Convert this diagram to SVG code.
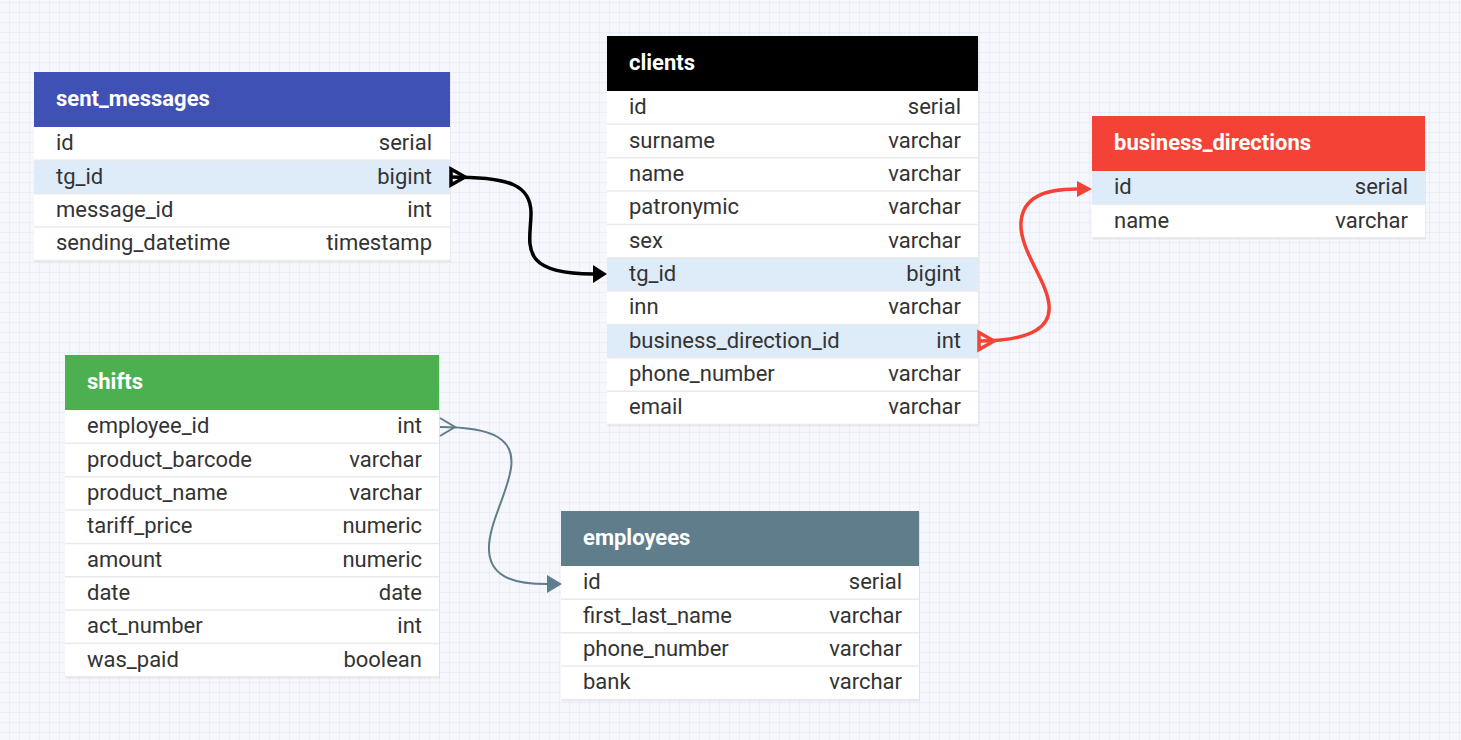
<svg xmlns="http://www.w3.org/2000/svg" width="1461" height="740" viewBox="0 0 1461 740">
<style>
.title{font-family:Roboto,"Liberation Sans",sans-serif;font-size:22px;font-weight:bold;fill:#ffffff}
.f{font-family:Roboto,"Liberation Sans",sans-serif;font-size:22px;fill:#333333}
.t{font-family:Roboto,"Liberation Sans",sans-serif;font-size:22px;fill:#333333;text-anchor:end}
.body{fill:#ffffff}
.shadow{fill:#000000;fill-opacity:0.05}
.hl{fill:#deebf8}
.sep{stroke:#eaeaea;stroke-width:1.5}
.c-black{fill:none;stroke:#000000;stroke-width:3.5}
.c-red{fill:none;stroke:#f44336;stroke-width:3.5}
.c-gray{fill:none;stroke:#607d8b;stroke-width:2}
</style>
<defs>
<pattern id="grid" width="10" height="10" patternUnits="userSpaceOnUse" y="3">
<rect width="10" height="10" fill="#f6f7fc"/>
<path d="M10,0 V10 M0,10 H10" stroke="#dfe6f4" stroke-width="1" fill="none"/>
</pattern>
<marker id="ar-black" markerUnits="userSpaceOnUse" markerWidth="14" markerHeight="18" refX="0" refY="9" orient="auto" viewBox="0 0 14 18">
<path d="M0,0 L14,9 L0,18 Z" fill="#000000"/>
</marker>
<marker id="ar-red" markerUnits="userSpaceOnUse" markerWidth="15" markerHeight="16" refX="0" refY="8" orient="auto" viewBox="0 0 15 16">
<path d="M0,0 L15,8 L0,16 Z" fill="#f44336"/>
</marker>
<marker id="ar-gray" markerUnits="userSpaceOnUse" markerWidth="15" markerHeight="18" refX="0" refY="9" orient="auto" viewBox="0 0 15 18">
<path d="M0,0 L15,9 L0,18 Z" fill="#607d8b"/>
</marker>
</defs>
<rect width="1461" height="740" fill="url(#grid)"/>

<g id="sent_messages" transform="translate(34,72)">
<rect class="shadow" x="1" y="1" width="416" height="189.4"/>
<rect fill="#3f51b5" width="416" height="55"/>
<text class="title" x="22" y="34">sent_messages</text>
<rect class="body" y="55" width="416" height="133.4"/>
<rect class="hl" y="88.35" width="416" height="33.35"/>
<line class="sep" x1="0" x2="416" y1="88.35" y2="88.35"/>
<line class="sep" x1="0" x2="416" y1="121.7" y2="121.7"/>
<line class="sep" x1="0" x2="416" y1="155.05" y2="155.05"/>
<line class="sep" x1="0" x2="416" y1="188.4" y2="188.4"/>
<text class="f" x="22" y="78.2">id</text><text class="t" x="398" y="78.2">serial</text>
<text class="f" x="22" y="111.55">tg_id</text><text class="t" x="398" y="111.55">bigint</text>
<text class="f" x="22" y="144.9">message_id</text><text class="t" x="398" y="144.9">int</text>
<text class="f" x="22" y="178.25">sending_datetime</text><text class="t" x="398" y="178.25">timestamp</text>
</g>

<g id="clients" transform="translate(607,36)">
<rect class="shadow" x="1" y="1" width="371" height="389.5"/>
<rect fill="#000000" width="371" height="55"/>
<text class="title" x="22" y="34">clients</text>
<rect class="body" y="55" width="371" height="333.5"/>
<rect class="hl" y="221.75" width="371" height="33.35"/>
<rect class="hl" y="288.45" width="371" height="33.35"/>
<line class="sep" x1="0" x2="371" y1="88.35" y2="88.35"/>
<line class="sep" x1="0" x2="371" y1="121.7" y2="121.7"/>
<line class="sep" x1="0" x2="371" y1="155.05" y2="155.05"/>
<line class="sep" x1="0" x2="371" y1="188.4" y2="188.4"/>
<line class="sep" x1="0" x2="371" y1="221.75" y2="221.75"/>
<line class="sep" x1="0" x2="371" y1="255.1" y2="255.1"/>
<line class="sep" x1="0" x2="371" y1="288.45" y2="288.45"/>
<line class="sep" x1="0" x2="371" y1="321.8" y2="321.8"/>
<line class="sep" x1="0" x2="371" y1="355.15" y2="355.15"/>
<line class="sep" x1="0" x2="371" y1="388.5" y2="388.5"/>
<text class="f" x="22" y="78.2">id</text><text class="t" x="354" y="78.2">serial</text>
<text class="f" x="22" y="111.55">surname</text><text class="t" x="354" y="111.55">varchar</text>
<text class="f" x="22" y="144.9">name</text><text class="t" x="354" y="144.9">varchar</text>
<text class="f" x="22" y="178.25">patronymic</text><text class="t" x="354" y="178.25">varchar</text>
<text class="f" x="22" y="211.6">sex</text><text class="t" x="354" y="211.6">varchar</text>
<text class="f" x="22" y="244.95">tg_id</text><text class="t" x="354" y="244.95">bigint</text>
<text class="f" x="22" y="278.3">inn</text><text class="t" x="354" y="278.3">varchar</text>
<text class="f" x="22" y="311.65">business_direction_id</text><text class="t" x="354" y="311.65">int</text>
<text class="f" x="22" y="345">phone_number</text><text class="t" x="354" y="345">varchar</text>
<text class="f" x="22" y="378.35">email</text><text class="t" x="354" y="378.35">varchar</text>
</g>

<g id="business_directions" transform="translate(1092,116)">
<rect class="shadow" x="1" y="1" width="333" height="122.7"/>
<rect fill="#f44336" width="333" height="55"/>
<text class="title" x="22" y="34">business_directions</text>
<rect class="body" y="55" width="333" height="66.7"/>
<rect class="hl" y="55" width="333" height="33.35"/>
<line class="sep" x1="0" x2="333" y1="88.35" y2="88.35"/>
<line class="sep" x1="0" x2="333" y1="121.7" y2="121.7"/>
<text class="f" x="22" y="78.2">id</text><text class="t" x="316" y="78.2">serial</text>
<text class="f" x="22" y="111.55">name</text><text class="t" x="316" y="111.55">varchar</text>
</g>

<g id="shifts" transform="translate(65,355)">
<rect class="shadow" x="1" y="1" width="374" height="322.8"/>
<rect fill="#4caf50" width="374" height="55"/>
<text class="title" x="22" y="34">shifts</text>
<rect class="body" y="55" width="374" height="266.8"/>
<line class="sep" x1="0" x2="374" y1="88.35" y2="88.35"/>
<line class="sep" x1="0" x2="374" y1="121.7" y2="121.7"/>
<line class="sep" x1="0" x2="374" y1="155.05" y2="155.05"/>
<line class="sep" x1="0" x2="374" y1="188.4" y2="188.4"/>
<line class="sep" x1="0" x2="374" y1="221.75" y2="221.75"/>
<line class="sep" x1="0" x2="374" y1="255.1" y2="255.1"/>
<line class="sep" x1="0" x2="374" y1="288.45" y2="288.45"/>
<line class="sep" x1="0" x2="374" y1="321.8" y2="321.8"/>
<text class="f" x="22" y="78.2">employee_id</text><text class="t" x="357" y="78.2">int</text>
<text class="f" x="22" y="111.55">product_barcode</text><text class="t" x="357" y="111.55">varchar</text>
<text class="f" x="22" y="144.9">product_name</text><text class="t" x="357" y="144.9">varchar</text>
<text class="f" x="22" y="178.25">tariff_price</text><text class="t" x="357" y="178.25">numeric</text>
<text class="f" x="22" y="211.6">amount</text><text class="t" x="357" y="211.6">numeric</text>
<text class="f" x="22" y="244.95">date</text><text class="t" x="357" y="244.95">date</text>
<text class="f" x="22" y="278.3">act_number</text><text class="t" x="357" y="278.3">int</text>
<text class="f" x="22" y="311.65">was_paid</text><text class="t" x="357" y="311.65">boolean</text>
</g>

<g id="employees" transform="translate(561,511)">
<rect class="shadow" x="1" y="1" width="358" height="189.4"/>
<rect fill="#607d8b" width="358" height="55"/>
<text class="title" x="22" y="34">employees</text>
<rect class="body" y="55" width="358" height="133.4"/>
<line class="sep" x1="0" x2="358" y1="88.35" y2="88.35"/>
<line class="sep" x1="0" x2="358" y1="121.7" y2="121.7"/>
<line class="sep" x1="0" x2="358" y1="155.05" y2="155.05"/>
<line class="sep" x1="0" x2="358" y1="188.4" y2="188.4"/>
<text class="f" x="22" y="78.2">id</text><text class="t" x="341" y="78.2">serial</text>
<text class="f" x="22" y="111.55">first_last_name</text><text class="t" x="341" y="111.55">varchar</text>
<text class="f" x="22" y="144.9">phone_number</text><text class="t" x="341" y="144.9">varchar</text>
<text class="f" x="22" y="178.25">bank</text><text class="t" x="341" y="178.25">varchar</text>
</g>

<g id="connectors">
<path class="c-black" d="M451,177 C 510,177 532,185 531,215 C 530,245 518,274 593,274" marker-end="url(#ar-black)"/>
<path class="c-black" d="M451,169 L465,177 L451,185 Z"/>
<path class="c-red" d="M979,341 C 1035,341 1051,325 1049,305 C 1047,280 1019,250 1021,222 C 1023,197 1045,189 1077,189" marker-end="url(#ar-red)"/>
<path class="c-red" d="M979,332.5 L994,341 L979,349.5 Z"/>
<path class="c-gray" d="M440,427 C 495,427 515,440 511,468 C 507,495 488,525 489,550 C 490,575 510,584 547,584" marker-end="url(#ar-gray)"/>
<path class="c-gray" d="M440,418 L455,427 L440,436"/>
</g>
</svg>
